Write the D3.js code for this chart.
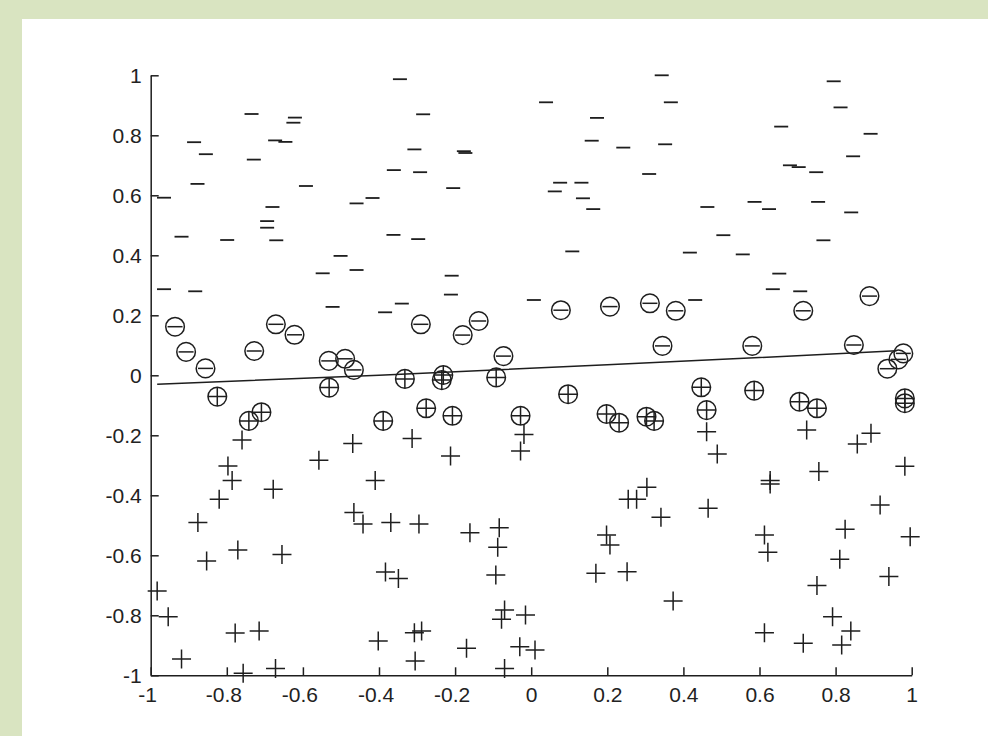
<!DOCTYPE html>
<html><head><meta charset="utf-8">
<script src="https://cdn.jsdelivr.net/npm/d3@7"></script>
<style>html,body{margin:0;padding:0;background:#fff;overflow:hidden} svg{display:block}</style>
</head><body><svg id="c" width="988" height="736"></svg>
<script>
// ---- data ----
const xTicks = [-1,-0.8,-0.6,-0.4,-0.2,0,0.2,0.4,0.6,0.8,1];
const xTickLabels = ["-1","-0.8","-0.6","-0.4","-0.2","0","0.2","0.4","0.6","0.8","1"];
const yTicks = [-1,-0.8,-0.6,-0.4,-0.2,0,0.2,0.4,0.6,0.8,1];
const yTickLabels = ["-1","-0.8","-0.6","-0.4","-0.2","0","0.2","0.4","0.6","0.8","1"];

// class "-" points
const negPoints = [
[-0.965,0.592],[-0.886,0.777],[-0.855,0.737],[-0.877,0.638],[-0.919,0.462],[-0.799,0.451],
[-0.735,0.871],[-0.729,0.719],[-0.680,0.561],[-0.694,0.514],[-0.694,0.492],[-0.670,0.450],
[-0.673,0.783],[-0.646,0.778],[-0.621,0.859],[-0.625,0.842],[-0.592,0.631],[-0.548,0.340],
[-0.501,0.398],[-0.459,0.351],[-0.459,0.573],[-0.417,0.591],[-0.361,0.684],[-0.362,0.468],
[-0.345,0.987],[-0.284,0.870],[-0.307,0.753],[-0.177,0.747],[-0.173,0.741],[-0.292,0.677],
[-0.205,0.624],[-0.297,0.454],[-0.209,0.332],[0.039,0.910],[0.343,1.0],[0.367,0.910],
[0.173,0.858],[0.159,0.782],[0.242,0.759],[0.352,0.770],[0.310,0.671],[0.076,0.642],
[0.132,0.642],[0.062,0.613],[0.136,0.590],[0.163,0.554],[0.108,0.413],[0.795,0.980],
[0.813,0.893],[0.657,0.829],[0.892,0.805],[0.846,0.730],[0.680,0.700],[0.703,0.694],
[0.749,0.677],[0.463,0.561],[0.587,0.578],[0.625,0.554],[0.754,0.578],[0.841,0.543],
[0.505,0.467],[0.768,0.450],[0.417,0.409],[0.556,0.403],[0.652,0.339],[-0.965,0.287],
[-0.883,0.280],[-0.522,0.228],[-0.384,0.210],[-0.340,0.239],[-0.211,0.269],[0.007,0.251],
[0.635,0.287],[0.707,0.280],[0.431,0.251]
];

// class "+" points
const posPoints = [
[-0.760,-0.216],[-0.797,-0.302],[-0.558,-0.283],[-0.469,-0.227],[-0.313,-0.211],[-0.212,-0.269],
[-0.019,-0.197],[-0.028,-0.252],[0.461,-0.188],[0.489,-0.262],[0.724,-0.182],[0.857,-0.229],
[0.893,-0.193],[0.982,-0.303],[0.756,-0.321],[-0.786,-0.351],[-0.820,-0.413],[-0.678,-0.380],
[-0.410,-0.351],[-0.466,-0.457],[-0.442,-0.496],[-0.369,-0.491],[-0.876,-0.491],[-0.771,-0.582],
[-0.655,-0.597],[-0.853,-0.619],[-0.383,-0.656],[-0.349,-0.677],[-0.983,-0.719],[-0.954,-0.805],
[-0.778,-0.859],[-0.715,-0.852],[-0.402,-0.886],[-0.919,-0.946],[-0.757,-0.993],[-0.672,-0.977],
[-0.295,-0.496],[-0.161,-0.525],[-0.084,-0.508],[-0.088,-0.573],[-0.093,-0.666],[-0.070,-0.782],
[-0.078,-0.813],[-0.015,-0.799],[-0.307,-0.858],[-0.288,-0.852],[-0.170,-0.910],[-0.030,-0.905],
[0.010,-0.916],[-0.305,-0.952],[-0.070,-0.977],[0.304,-0.373],[0.255,-0.413],[0.277,-0.413],
[0.341,-0.473],[0.198,-0.532],[0.207,-0.566],[0.170,-0.660],[0.252,-0.655],[0.373,-0.752],
[0.628,-0.351],[0.628,-0.362],[0.465,-0.443],[0.917,-0.432],[0.825,-0.513],[0.996,-0.538],
[0.613,-0.532],[0.622,-0.590],[0.811,-0.613],[0.940,-0.671],[0.751,-0.701],[0.792,-0.805],
[0.840,-0.852],[0.613,-0.858],[0.715,-0.893],[0.816,-0.899]
];

// circled "-" (support vectors, negative class)
const negSupport = [
[-0.936,0.162],[-0.907,0.078],[-0.856,0.023],[-0.728,0.081],[-0.671,0.170],[-0.622,0.135],
[-0.532,0.048],[-0.489,0.055],[-0.466,0.018],[-0.290,0.170],[-0.180,0.134],[-0.138,0.181],
[-0.073,0.064],[0.078,0.217],[0.207,0.229],[0.312,0.240],[0.380,0.215],[0.345,0.098],
[0.581,0.098],[0.715,0.215],[0.889,0.264],[0.848,0.101],[0.978,0.073],[0.965,0.053],
[0.936,0.022]
];

// circled "+" (support vectors, positive class)
const posSupport = [
[-0.825,-0.071],[-0.742,-0.152],[-0.709,-0.123],[-0.531,-0.041],[-0.389,-0.152],[-0.332,-0.012],
[-0.231,0.001],[-0.235,-0.016],[-0.092,-0.007],[0.097,-0.063],[-0.276,-0.110],[-0.207,-0.135],
[-0.028,-0.135],[0.198,-0.129],[0.231,-0.158],[0.303,-0.138],[0.323,-0.152],[0.447,-0.040],
[0.586,-0.051],[0.461,-0.116],[0.705,-0.088],[0.751,-0.110],[0.982,-0.077],[0.982,-0.093]
];

// decision boundary
const boundaryX = [-0.983,-0.4,0.2,0.6,0.96];
const boundaryY = [-0.030,0.0,0.035,0.059,0.082];

// ---- drawing ----
const W = 988, H = 736;
const svg = d3.select("#c");
const ink = "#1e1e1e";

svg.append("rect").attr("width", W).attr("height", H).attr("fill", "#d9e4c1");
svg.append("rect").attr("x", 22).attr("y", 19).attr("width", W - 22).attr("height", H - 19).attr("fill", "#ffffff");

const x = d3.scaleLinear().domain([-1, 1]).range([150.7, 911.7]);
const y = d3.scaleLinear().domain([-1, 1]).range([675.3, 75.3]);

const font = "'Liberation Sans', Arial, sans-serif";
const fs = 21;

// axes
const gx = svg.append("g").attr("transform", `translate(0,${y(-1)})`)
  .call(d3.axisBottom(x).tickValues(xTicks).tickSize(-8).tickSizeOuter(0)
    .tickFormat((d, i) => xTickLabels[i]));
const gy = svg.append("g").attr("transform", `translate(${x(-1)},0)`)
  .call(d3.axisLeft(y).tickValues(yTicks).tickSize(-8).tickSizeOuter(0)
    .tickFormat((d, i) => yTickLabels[i]));

[gx, gy].forEach(g => {
  g.select(".domain").attr("stroke", ink).attr("stroke-width", 1.5);
  g.selectAll(".tick line").attr("stroke", ink).attr("stroke-width", 1.5);
  g.selectAll(".tick text").attr("fill", "#222").style("font-family", font).style("font-size", fs + "px");
});

// measure minus width for MATLAB-like centering of numeric part
const tmp = svg.append("text").style("font-family", font).style("font-size", fs + "px").text("-");
const minusW = tmp.node().getComputedTextLength();
tmp.remove();

gx.selectAll(".tick text")
  .attr("y", 26.5).attr("dy", null)
  .attr("text-anchor", "middle")
  .attr("x", (d, i) => xTickLabels[i].startsWith("-") ? -minusW / 2 : 0);

gy.selectAll(".tick text")
  .attr("x", -9).attr("dy", null).attr("y", 7.5)
  .attr("text-anchor", "end");

// boundary line
svg.append("path")
  .datum(boundaryX.map((v, i) => [v, boundaryY[i]]))
  .attr("fill", "none").attr("stroke", ink).attr("stroke-width", 1.5)
  .attr("d", d3.line().x(d => x(d[0])).y(d => y(d[1])));

const sw = 1.5;
// minus markers
svg.append("g").selectAll("path").data(negPoints).join("path")
  .attr("transform", d => `translate(${x(d[0])},${y(d[1])})`)
  .attr("d", "M-7,0H7").attr("stroke", ink).attr("stroke-width", 1.8).attr("fill", "none");

// plus markers
svg.append("g").selectAll("path").data(posPoints).join("path")
  .attr("transform", d => `translate(${x(d[0])},${y(d[1])})`)
  .attr("d", "M-9.5,0H9.5M0,-9.5V9.5").attr("stroke", ink).attr("stroke-width", sw).attr("fill", "none");

// circled minus
const gn = svg.append("g").selectAll("g").data(negSupport).join("g")
  .attr("transform", d => `translate(${x(d[0])},${y(d[1])})`);
gn.append("circle").attr("r", 9.3).attr("fill", "none").attr("stroke", ink).attr("stroke-width", sw);
gn.append("path").attr("d", "M-7.5,0H7.5").attr("stroke", ink).attr("stroke-width", sw);

// circled plus
const gp = svg.append("g").selectAll("g").data(posSupport).join("g")
  .attr("transform", d => `translate(${x(d[0])},${y(d[1])})`);
gp.append("circle").attr("r", 9.3).attr("fill", "none").attr("stroke", ink).attr("stroke-width", sw);
gp.append("path").attr("d", "M-9.3,0H9.3M0,-9.3V9.3").attr("stroke", ink).attr("stroke-width", sw);
</script>
</body></html>
